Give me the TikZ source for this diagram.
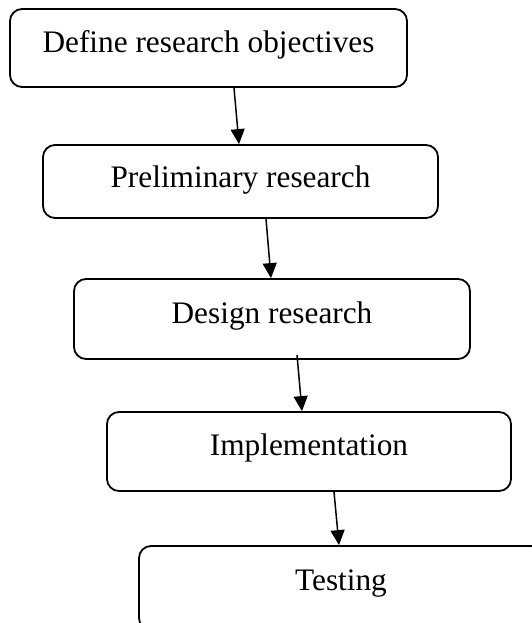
\documentclass[tikz,border=0pt]{standalone}
\usepackage{fontspec}
\setmainfont{Liberation Serif}
\usetikzlibrary{arrows.meta}
\begin{document}
\begin{tikzpicture}[x=1pt,y=-1pt,
  stepbox/.style={draw, line width=1.8pt, rounded corners=12pt, inner sep=0pt,
    font=\fontsize{31.3}{36}\selectfont},
  flow/.style={line width=1.5pt, -{Triangle[length=15pt,width=14pt]}}]
\useasboundingbox (0,0) rectangle (532,623);
\clip (0,0) rectangle (532,623);

% process steps (text sits in the upper part of each box)
\node[stepbox, minimum width=397pt, text height=44pt, text depth=34pt, anchor=base]
  (s1) at (208.5,53) {Define research objectives};
\node[stepbox, minimum width=395pt, text height=42.5pt, text depth=30.5pt, anchor=base]
  (s2) at (240.5,187.5) {Preliminary research};
\node[stepbox, minimum width=396pt, text height=44.3pt, text depth=35.7pt, anchor=base]
  (s3) at (272,323.3) {Design research};
\node[stepbox, minimum width=404pt, text height=43pt, text depth=36pt, anchor=base]
  (s4) at (309,455) {Implementation};
\node[stepbox, minimum width=404pt, text height=44pt, text depth=40pt, anchor=base]
  (s5) at (341,590) {Testing};

% slanted connectors between consecutive steps
\draw[flow] ([xshift=25.5pt]s1.south) -- ([xshift=-1.5pt]s2.north);
\draw[flow] ([xshift=25.5pt]s2.south) -- ([xshift=-1pt]s3.north);
\draw[flow] ([xshift=25pt,yshift=5pt]s3.south) -- ([xshift=-7pt]s4.north);
\draw[flow] ([xshift=25pt]s4.south) -- ([xshift=-2pt]s5.north);
\end{tikzpicture}
\end{document}
